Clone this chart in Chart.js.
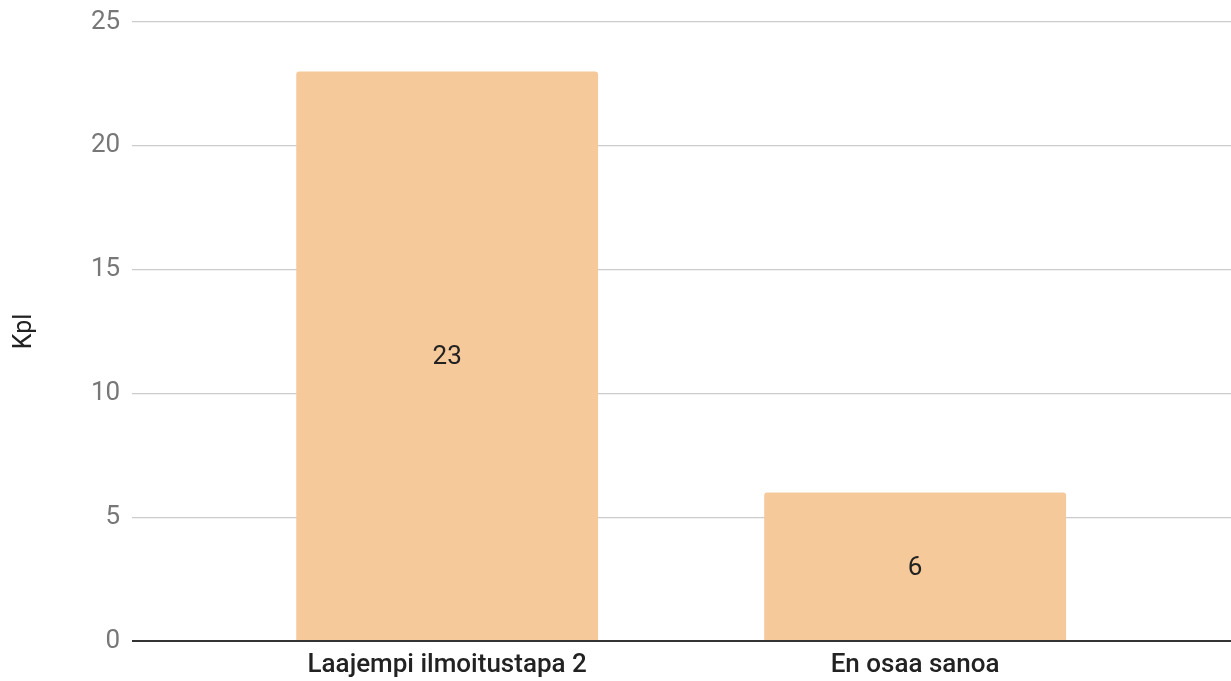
<!DOCTYPE html>
<html>
<head>
<meta charset="utf-8">
<script src="https://cdn.jsdelivr.net/npm/chart.js@4"></script>
<style>
  html, body { margin: 0; padding: 0; background: #fff; }
  #wrap { width: 1231px; height: 681px; }
</style>
</head>
<body>
<div id="wrap"><canvas id="chart"></canvas></div>
<script>
const categories = ['Laajempi ilmoitustapa 2', 'En osaa sanoa'];
const counts = [23, 6];
const yTicks = [0, 5, 10, 15, 20, 25];
const yTitle = 'Kpl';

// bars sit on a linear x axis so the grid can run past the categories
const barData = counts.map((v, i) => ({ x: i, y: v }));

const valueLabels = {
  id: 'valueLabels',
  afterDatasetsDraw(chart) {
    const ctx = chart.ctx;
    const meta = chart.getDatasetMeta(0);
    ctx.save();
    ctx.font = '26px Roboto';
    ctx.fillStyle = '#222';
    ctx.textAlign = 'center';
    ctx.textBaseline = 'middle';
    meta.data.forEach((bar, i) => {
      const { x, y, base } = bar.getProps(['x', 'y', 'base'], true);
      ctx.fillText(String(counts[i]), x, (y + base) / 2 + 2);
    });
    ctx.restore();
  }
};

new Chart(document.getElementById('chart'), {
  type: 'bar',
  data: {
    datasets: [{
      data: barData,
      backgroundColor: '#F6C99B',
      borderRadius: 3,
      borderSkipped: 'start',
      barPercentage: 0.645,
      categoryPercentage: 1
    }]
  },
  options: {
    responsive: true,
    maintainAspectRatio: false,
    animation: false,
    layout: { padding: { left: 0, right: 0, top: 22, bottom: 4 } },
    plugins: { legend: { display: false }, tooltip: { enabled: false } },
    scales: {
      x: {
        type: 'linear',
        offset: false,
        min: -0.673,
        max: 1.675,
        afterBuildTicks(scale) {
          scale.ticks = categories.map((c, i) => ({ value: i }));
        },
        afterFit(scale) {
          scale.height = 36;
          scale.paddingLeft = 0;
          scale.paddingRight = 0;
        },
        grid: { display: false, drawTicks: false },
        border: { display: false },
        ticks: {
          autoSkip: false,
          maxRotation: 0,
          padding: 11,
          color: '#222',
          font: { family: 'Roboto', size: 26, weight: '500', lineHeight: 1 },
          callback: (v) => categories[v]
        }
      },
      y: {
        min: 0,
        max: 25,
        afterBuildTicks(scale) {
          scale.ticks = yTicks.map(v => ({ value: v }));
        },
        afterFit(scale) {
          scale.paddingTop = 0;
          scale.paddingBottom = 0;
        },
        grid: {
          color: (c) => c.tick.value === 0 ? '#333' : '#ccc',
          lineWidth: (c) => c.tick.value === 0 ? 2 : 1.2,
          drawTicks: false
        },
        border: { display: false },
        ticks: {
          padding: 12,
          color: '#777',
          font: { family: 'Roboto', size: 26 }
        },
        title: {
          display: true,
          text: yTitle,
          color: '#222',
          padding: { top: 10, bottom: 39 },
          font: { family: 'Roboto', size: 25 }
        }
      }
    }
  },
  plugins: [valueLabels]
});
</script>
</body>
</html>
